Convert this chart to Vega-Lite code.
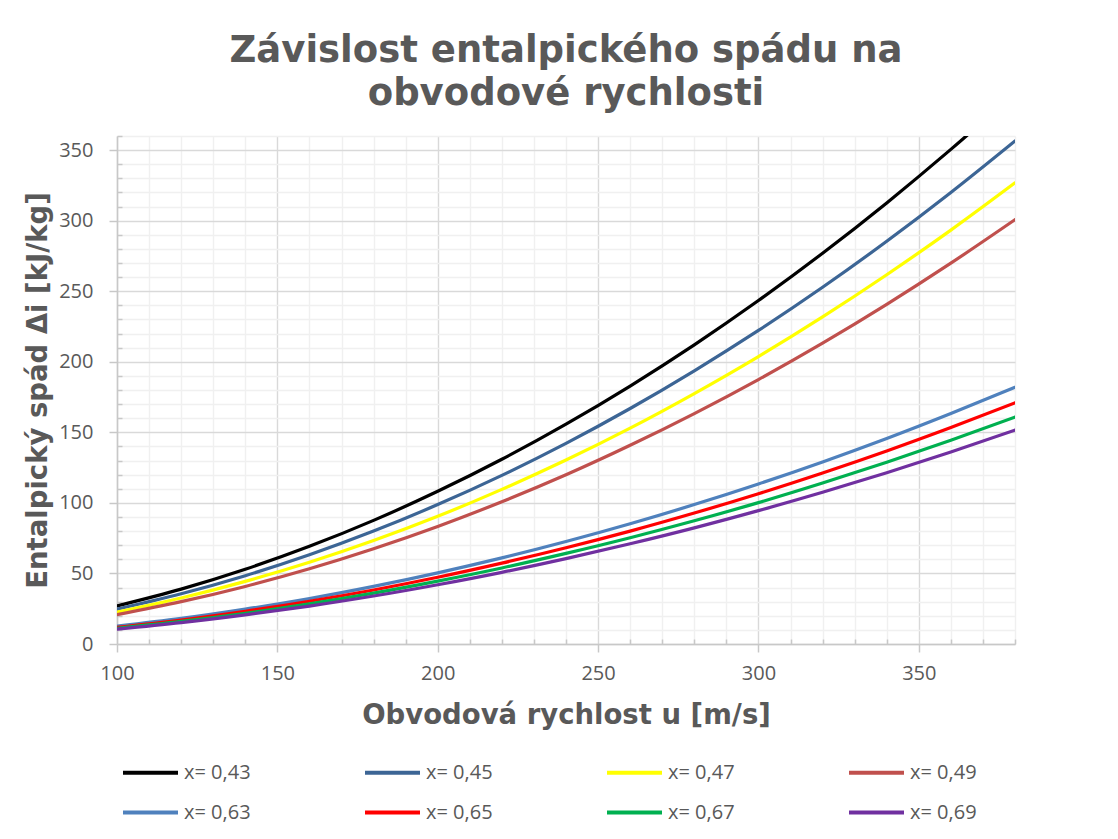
{
  "$schema": "https://vega.github.io/schema/vega-lite/v6.json",
  "width": 898,
  "height": 508,
  "autosize": {"type": "none"},
  "padding": {"left": 117, "top": 136, "right": 103, "bottom": 195},
  "background": "white",
  "title": {
    "text": ["Závislost entalpického spádu na", "obvodové rychlosti"],
    "font": "DejaVu Sans",
    "fontSize": 37,
    "fontWeight": "bold",
    "color": "#595959",
    "lineHeight": 43,
    "offset": 13,
    "anchor": "middle"
  },
  "data": {
    "values": [
      {"u": 100, "x= 0,43": 27.0, "x= 0,45": 24.7, "x= 0,47": 22.6, "x= 0,49": 20.8, "x= 0,63": 12.6, "x= 0,65": 11.8, "x= 0,67": 11.1, "x= 0,69": 10.5},
      {"u": 120, "x= 0,43": 38.9, "x= 0,45": 35.6, "x= 0,47": 32.6, "x= 0,49": 30.0, "x= 0,63": 18.1, "x= 0,65": 17.0, "x= 0,67": 16.0, "x= 0,69": 15.1},
      {"u": 140, "x= 0,43": 53.0, "x= 0,45": 48.4, "x= 0,47": 44.4, "x= 0,49": 40.8, "x= 0,63": 24.7, "x= 0,65": 23.2, "x= 0,67": 21.8, "x= 0,69": 20.6},
      {"u": 160, "x= 0,43": 69.2, "x= 0,45": 63.2, "x= 0,47": 57.9, "x= 0,49": 53.3, "x= 0,63": 32.2, "x= 0,65": 30.3, "x= 0,67": 28.5, "x= 0,69": 26.9},
      {"u": 180, "x= 0,43": 87.6, "x= 0,45": 80.0, "x= 0,47": 73.3, "x= 0,49": 67.5, "x= 0,63": 40.8, "x= 0,65": 38.3, "x= 0,67": 36.1, "x= 0,69": 34.0},
      {"u": 200, "x= 0,43": 108.2, "x= 0,45": 98.8, "x= 0,47": 90.5, "x= 0,49": 83.3, "x= 0,63": 50.4, "x= 0,65": 47.3, "x= 0,67": 44.6, "x= 0,69": 42.0},
      {"u": 220, "x= 0,43": 130.9, "x= 0,45": 119.5, "x= 0,47": 109.6, "x= 0,49": 100.8, "x= 0,63": 61.0, "x= 0,65": 57.3, "x= 0,67": 53.9, "x= 0,69": 50.8},
      {"u": 240, "x= 0,43": 155.8, "x= 0,45": 142.2, "x= 0,47": 130.4, "x= 0,49": 119.9, "x= 0,63": 72.6, "x= 0,65": 68.2, "x= 0,67": 64.2, "x= 0,69": 60.5},
      {"u": 260, "x= 0,43": 182.8, "x= 0,45": 166.9, "x= 0,47": 153.0, "x= 0,49": 140.8, "x= 0,63": 85.2, "x= 0,65": 80.0, "x= 0,67": 75.3, "x= 0,69": 71.0},
      {"u": 280, "x= 0,43": 212.0, "x= 0,45": 193.6, "x= 0,47": 177.5, "x= 0,49": 163.3, "x= 0,63": 98.8, "x= 0,65": 92.8, "x= 0,67": 87.3, "x= 0,69": 82.3},
      {"u": 300, "x= 0,43": 243.4, "x= 0,45": 222.2, "x= 0,47": 203.7, "x= 0,49": 187.4, "x= 0,63": 113.4, "x= 0,65": 106.5, "x= 0,67": 100.2, "x= 0,69": 94.5},
      {"u": 320, "x= 0,43": 276.9, "x= 0,45": 252.8, "x= 0,47": 231.8, "x= 0,49": 213.2, "x= 0,63": 129.0, "x= 0,65": 121.2, "x= 0,67": 114.1, "x= 0,69": 107.5},
      {"u": 340, "x= 0,43": 312.6, "x= 0,45": 285.4, "x= 0,47": 261.7, "x= 0,49": 240.7, "x= 0,63": 145.6, "x= 0,65": 136.8, "x= 0,67": 128.8, "x= 0,69": 121.4},
      {"u": 360, "x= 0,43": 350.5, "x= 0,45": 320.0, "x= 0,47": 293.3, "x= 0,49": 269.9, "x= 0,63": 163.3, "x= 0,65": 153.4, "x= 0,67": 144.4, "x= 0,69": 136.1},
      {"u": 380, "x= 0,43": 390.5, "x= 0,45": 356.5, "x= 0,47": 326.8, "x= 0,49": 300.7, "x= 0,63": 181.9, "x= 0,65": 170.9, "x= 0,67": 160.8, "x= 0,69": 151.6}
    ]
  },
  "transform": [
    {"fold": ["x= 0,43", "x= 0,45", "x= 0,47", "x= 0,49", "x= 0,63", "x= 0,65", "x= 0,67", "x= 0,69"], "as": ["serie", "di"]}
  ],
  "mark": {"type": "line", "strokeWidth": 3.2, "interpolate": "monotone", "clip": true, "strokeCap": "round"},
  "encoding": {
    "x": {
      "field": "u",
      "type": "quantitative",
      "scale": {"domain": [100, 380], "nice": false, "zero": false},
      "axis": {
        "title": "Obvodová rychlost u [m/s]",
        "values": [100,110,120,130,140,150,160,170,180,190,200,210,220,230,240,250,260,270,280,290,300,310,320,330,340,350,360,370,380],
        "labelExpr": "datum.value % 50 === 0 ? datum.label : ''",
        "labelFlush": false,
        "labelOverlap": false,
        "gridColor": {"condition": {"test": "datum.value % 50 === 0", "value": "#d9d9d9"}, "value": "#f0f0f0"},
        "tickSize": {"condition": {"test": "datum.value % 50 === 0", "value": 8}, "value": -5},
        "labelPadding": 11,
        "titlePadding": 18
      }
    },
    "y": {
      "field": "di",
      "type": "quantitative",
      "scale": {"domain": [0, 360], "nice": false},
      "axis": {
        "title": "Entalpický spád Δi [kJ/kg]",
        "values": [0,10,20,30,40,50,60,70,80,90,100,110,120,130,140,150,160,170,180,190,200,210,220,230,240,250,260,270,280,290,300,310,320,330,340,350,360],
        "labelExpr": "datum.value % 50 === 0 ? datum.label : ''",
        "labelFlush": false,
        "labelOverlap": false,
        "gridColor": {"condition": {"test": "datum.value % 50 === 0", "value": "#d9d9d9"}, "value": "#f0f0f0"},
        "tickSize": {"condition": {"test": "datum.value % 50 === 0", "value": 8}, "value": -5},
        "labelPadding": 16,
        "titlePadding": 6
      }
    },
    "color": {
      "field": "serie",
      "type": "nominal",
      "scale": {
        "domain": ["x= 0,43", "x= 0,45", "x= 0,47", "x= 0,49", "x= 0,63", "x= 0,65", "x= 0,67", "x= 0,69"],
        "range": ["#000000", "#3c6595", "#ffff00", "#c0504d", "#4f81bd", "#ff0000", "#00b050", "#7030a0"]
      },
      "legend": {
        "orient": "none",
        "direction": "horizontal",
        "legendX": 4,
        "legendY": 607,
        "columns": 4,
        "title": null,
        "symbolType": "stroke",
        "symbolSize": 3025,
        "symbolStrokeWidth": 4,
        "labelFont": "Open Sans",
        "labelFontSize": 20,
        "labelColor": "#595959",
        "labelOffset": 4,
        "columnPadding": 106,
        "rowPadding": -9
      }
    }
  },
  "config": {
    "view": {"stroke": null},
    "axis": {
      "grid": true,
      "gridWidth": 1.4,
      "domainColor": "#c8c8c8",
      "domainWidth": 1.5,
      "tickColor": "#c8c8c8",
      "tickWidth": 1.5,
      "labelFont": "Open Sans",
      "labelFontSize": 20,
      "labelColor": "#595959",
      "titleFont": "DejaVu Sans",
      "titleFontSize": 27.5,
      "titleFontWeight": "bold",
      "titleColor": "#595959"
    }
  }
}
